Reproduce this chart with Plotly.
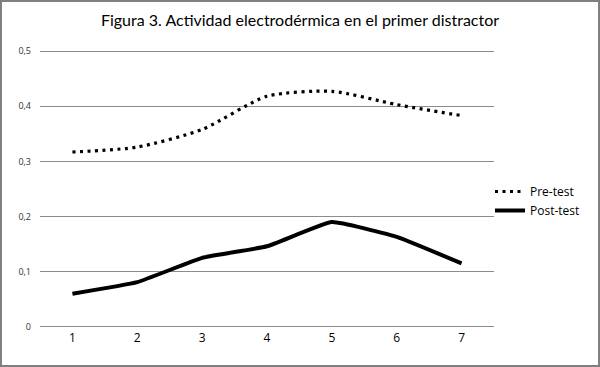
import plotly.graph_objects as go

categories = ["1", "2", "3", "4", "5", "6", "7"]
pre_test = [0.317, 0.326, 0.358, 0.418, 0.427, 0.403, 0.383]
post_test = [0.060, 0.081, 0.125, 0.146, 0.190, 0.163, 0.115]
y_ticks = [0, 0.1, 0.2, 0.3, 0.4, 0.5]
y_tick_labels = ["0", "0,1", "0,2", "0,3", "0,4", "0,5"]

fig = go.Figure()
fig.add_trace(go.Scatter(
    x=categories, y=pre_test, name="Pre-test", mode="lines",
    line=dict(color="black", width=3.2, dash="3px,4.5px", shape="spline", smoothing=0.7),
))
fig.add_trace(go.Scatter(
    x=categories, y=post_test, name="Post-test", mode="lines",
    line=dict(color="black", width=4, shape="spline", smoothing=0.35),
))

W, H = 600, 367
L, R, T, B = 40, 106, 50, 38
pw, ph = W - L - R, H - T - B

fig.update_layout(
    width=W, height=H, autosize=False,
    margin=dict(l=L, r=R, t=T, b=B, autoexpand=False),
    paper_bgcolor="white", plot_bgcolor="white",
    title=dict(text="Figura 3. Actividad electrodérmica en el primer distractor",
               x=0.5, xanchor="center", y=1 - 20 / H, yanchor="middle",
               font=dict(family="Lato, sans-serif", size=16, color="black")),
    font=dict(family="Open Sans, sans-serif", color="#222"),
    showlegend=True,
    legend=dict(x=(490 - L) / pw, y=(328 - 200) / ph, xanchor="left", yanchor="middle",
                bgcolor="rgba(0,0,0,0)", font=dict(size=12, color="black"),
                itemwidth=30, tracegroupgap=0),
    xaxis=dict(type="category", range=[-0.5, 6.5], showgrid=False, showline=False,
               ticks="", tickfont=dict(size=12, color="black"), zeroline=False),
    yaxis=dict(range=[-0.004, 0.502], tickvals=y_ticks, ticktext=y_tick_labels,
               showgrid=True, gridcolor="#8c8c8c", gridwidth=1, zeroline=False,
               showline=False, ticks="", ticklabelstandoff=8,
               tickfont=dict(size=9, color="#333")),
    shapes=[dict(type="rect", xref="paper", yref="paper",
                 x0=(1 - L) / pw, x1=(W - 1 - L) / pw,
                 y0=-(B - 1) / ph, y1=1 + (T - 1) / ph,
                 line=dict(color="#808080", width=2), layer="below")],
)

fig.write_html(
    "out.html",
    config={"displayModeBar": False, "responsive": False},
    default_width="600px", default_height="367px",
    post_script=(
        "document.body.style.margin='0';"
        "document.body.style.overflow='hidden';"
        "document.documentElement.style.overflow='hidden';"
    ),
)
